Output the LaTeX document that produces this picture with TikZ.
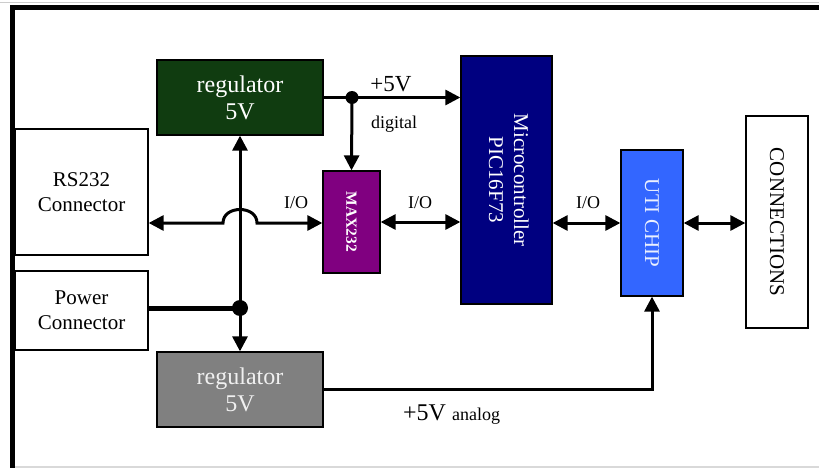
\documentclass[tikz,border=0pt]{standalone}
\usepackage{fontspec}
\setmainfont{Liberation Serif}
\usetikzlibrary{arrows.meta}
\definecolor{regG}{RGB}{16,60,16}
\definecolor{regGray}{RGB}{128,128,128}
\definecolor{maxP}{RGB}{128,0,128}
\definecolor{mcuB}{RGB}{0,0,128}
\definecolor{utiB}{RGB}{51,102,255}
\newcommand\myfs[2]{\fontsize{#1}{#2}\selectfont}
\begin{document}
\begin{tikzpicture}[x=1pt,y=-1pt,
  box/.style={draw=black, line width=1.3pt, inner sep=0pt, align=center},
  tip/.tip={Triangle[length=15pt,width=15pt]},
  conn/.style={line width=3pt, -tip},
  bi/.style={line width=3pt, tip-tip},
  lbl/.style={inner sep=0pt, font=\myfs{18}{20}},
  big/.style={inner sep=0pt, font=\myfs{23}{26}}]
\useasboundingbox (0,0) rectangle (819,468);
% frame
\draw[black!20, line width=1pt] (0,3) -- (819,3);
\draw[black!15, line width=1.5pt] (15,467) -- (819,467);
\draw[line width=5pt] (12.5,468) -- (12.5,7.5) -- (819,7.5);
% boxes
\node[box, fill=regG, text=white, minimum width=166pt, minimum height=75pt, font=\myfs{24}{27}] (regT) at (240,97.5) {regulator\\5V};
\node[box, fill=white, minimum width=133pt, minimum height=126pt, font=\myfs{21}{25}] (rs) at (81.5,192) {RS232\\Connector};
\node[box, fill=white, minimum width=133pt, minimum height=79pt, font=\myfs{21}{25}] (pw) at (81.5,310.5) {Power\\Connector};
\node[box, fill=regGray, text=black!6, minimum width=166pt, minimum height=75pt, font=\myfs{24}{27}] (regB) at (240,389.5) {regulator\\5V};
\node[box, fill=maxP, text=white, minimum width=57pt, minimum height=102pt, font=\myfs{15.5}{17}\bfseries] (max) at (351.5,222) {\rotatebox{-90}{MAX232}};
\node[box, fill=mcuB, text=white, minimum width=91pt, minimum height=248pt, font=\myfs{21}{25}] (mcu) at (506.5,180) {\rotatebox{-90}{\begin{tabular}{@{}c@{}}Microcontroller\\PIC16F73\end{tabular}}};
\node[box, fill=utiB, text=white!90!utiB, minimum width=62pt, minimum height=146pt, font=\myfs{21}{25}] (uti) at (652,223) {\rotatebox{-90}{UTI CHIP}};
\node[box, fill=white, minimum width=62pt, minimum height=212pt, font=\myfs{21}{25}] (conn) at (777,222) {\rotatebox{-90}{CONNECTIONS}};
% connectors
\coordinate (d1) at (352,97.5);
\coordinate (d2) at (240,308);
\coordinate (h1) at (223,223);
\coordinate (h2) at (257,223);
\draw[line width=3pt] (d2) -- (240,150);
\draw[conn] (d2) -- (regT.south);
\draw[conn] (d2) -- (regB.north);
\draw[line width=5pt] (pw.east |- d2) -- (d2);
\fill (d2) circle (8pt);
\draw[conn] (regT.east) -- (regT.east -| mcu.west);
\draw[conn] (d1) -- (max.north);
\fill (d1) circle (6.5pt);
\draw[bi] (rs.east |- h1) -- (h1) .. controls (223,205) and (257,205) .. (h2) -- (h2 -| max.west);
\draw[bi] (max.east) -- (max.east -| mcu.west);
\draw[bi] (mcu.east |- uti.west) -- (uti.west);
\draw[bi] (uti.east) -- (uti.east -| conn.west);
\draw[conn] (regB.east) -| (uti.south);
% labels
\node[lbl, anchor=base] (lio1) at (296,208) {I/O};
\node[lbl, anchor=base] (lio2) at (420,208) {I/O};
\node[lbl, anchor=base] (lio3) at (588,208) {I/O};
\node[big, anchor=base] (l5v) at (391,92) {+5V};
\node[lbl, anchor=base] (ldig) at (394,129) {digital};
\node[inner sep=0pt, anchor=base west] (lana) at (403,420) {\myfs{24}{26}+5V \myfs{18}{20}analog};
\end{tikzpicture}
\end{document}
